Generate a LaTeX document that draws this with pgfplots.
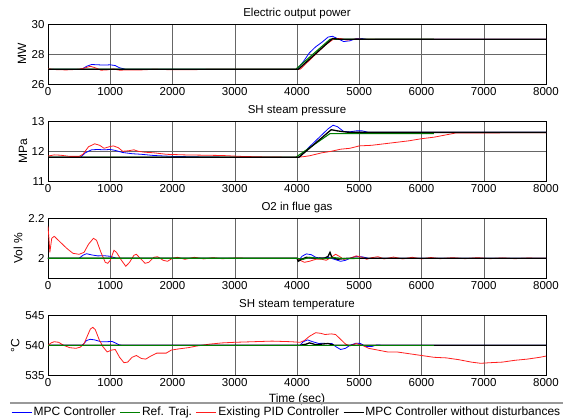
\documentclass[border=0pt]{standalone}
\usepackage{fontspec}
\setmainfont{Liberation Sans}
\usepackage{pgfplots}
\pgfplotsset{compat=1.18}

\definecolor{mblue}{RGB}{0,0,255}
\definecolor{mgreen}{RGB}{0,128,0}
\definecolor{mred}{RGB}{255,30,30}

\pgfplotsset{
  sub/.style={
    scale only axis, width=498pt, height=60pt, anchor=south west,
    xmin=0, xmax=8000, xtick={0,1000,...,8000},
    grid=major, major grid style={black!60, line width=0.5pt},
    major tick length=0pt,
    axis line style={line width=0.7pt},
    tick label style={font=\fontsize{11.5}{13}\selectfont},
    label style={font=\fontsize{12}{14}\selectfont},
    title style={font=\fontsize{11.5}{13}\selectfont, yshift=-4.5pt},
    /pgf/number format/assume math mode=true,
    /pgf/number format/set thousands separator={},
    scaled ticks=false,
    every axis plot/.append style={forget plot},
  },
  bl/.style={mblue, line width=0.8pt},
  gr/.style={mgreen, line width=1.1pt},
  rd/.style={mred, line width=0.8pt},
  bk/.style={black, line width=1.3pt},
}

\begin{document}
\begin{tikzpicture}
\useasboundingbox (0,0) rectangle (568pt,418pt);

% ---- electric output power
\begin{axis}[sub, at={(48pt,333.7pt)}, ymin=26, ymax=30, ytick={26,28,30},
  title={Electric output power}, ylabel={MW},
  ylabel style={at={(axis description cs:-0.052,0.5)}, anchor=center}]
\addplot[bl] coordinates {(0,27) (500,27) (550,27.02) (620,27.2) (700,27.32) (800,27.3) (900,27.28) (1000,27.3) (1080,27.25) (1150,27.1) (1250,27.0) (4000,27) (4100,27.5) (4200,28.1) (4300,28.5) (4400,28.8) (4500,29.15) (4570,29.2) (4650,29.05) (4750,28.85) (4850,28.9) (4950,29.05) (5050,29.05) (5150,28.98) (5300,29.0) (8000,29)};
\addplot[gr] coordinates {(0,27) (3980,27) (4530,29) (6200,29)};
\addplot[rd] coordinates {(0,27.03) (150,26.97) (300,26.96) (500,27) (600,27.1) (680,27.2) (760,27.1) (850,26.94) (950,26.96) (1050,27.02) (1150,26.94) (1300,26.96) (1500,26.96) (1700,27.0) (2000,26.97) (2300,26.97) (2600,27.0) (4000,27) (4050,27.0) (4150,27.4) (4300,28.0) (4450,28.6) (4600,29.05) (4700,29.05) (4800,28.95) (4950,29.02) (5100,29.0) (6700,29) (8000,29)};
\addplot[bk] coordinates {(0,27) (4020,27) (4570,29.05) (4700,29.0) (8000,29)};
\end{axis}

% ---- SH steam pressure
\begin{axis}[sub, at={(48pt,236.7pt)}, ymin=11, ymax=13, ytick={11,12,13},
  title={SH steam pressure}, ylabel={MPa},
  ylabel style={at={(axis description cs:-0.050,0.5)}, anchor=center}]
\addplot[bl] coordinates {(0,11.8) (520,11.8) (600,11.95) (700,12.05) (800,12.06) (900,12.05) (1000,12.06) (1080,12.03) (1200,11.96) (1350,11.92) (1500,11.9) (1700,11.86) (2000,11.83) (2500,11.81) (3000,11.8) (4000,11.8) (4050,11.83) (4200,12.15) (4350,12.45) (4500,12.75) (4580,12.87) (4650,12.82) (4750,12.66) (4850,12.65) (4950,12.68) (5050,12.68) (5150,12.63) (5300,12.63) (8000,12.63)};
\addplot[gr] coordinates {(0,11.8) (3980,11.8) (4530,12.59) (6200,12.59)};
\addplot[rd] coordinates {(0,11.84) (100,11.88) (200,11.87) (350,11.83) (500,11.83) (560,11.9) (650,12.15) (750,12.25) (830,12.2) (900,12.1) (980,12.15) (1050,12.18) (1130,12.12) (1200,12.0) (1300,12.02) (1380,12.05) (1450,12.0) (1550,11.97) (1700,11.95) (1900,11.9) (2200,11.88) (2500,11.87) (2800,11.86) (3100,11.83) (3500,11.81) (4000,11.8) (4100,11.82) (4200,11.85) (4400,11.95) (4550,12.0) (4700,12.07) (4850,12.1) (5000,12.18) (5200,12.2) (5400,12.25) (5600,12.3) (5800,12.35) (6000,12.42) (6200,12.47) (6400,12.55) (6550,12.61) (8000,12.62)};
\addplot[bk] coordinates {(0,11.8) (4030,11.8) (4200,12.1) (4550,12.72) (4650,12.68) (4800,12.64) (5000,12.63) (8000,12.63)};
\end{axis}

% ---- O2 in flue gas
\begin{axis}[sub, at={(48pt,139.7pt)}, ymin=1.9, ymax=2.2, ytick={2,2.2},
  title={O2 in flue gas}, ylabel={Vol \%},
  ylabel style={at={(axis description cs:-0.060,0.5)}, anchor=center}]
\addplot[bl] coordinates {(0,2) (500,2) (560,2.015) (620,2.023) (700,2.017) (800,2.012) (900,2.013) (1000,2.01) (1050,2.005) (1100,2) (4000,2) (4030,1.99) (4080,2.01) (4150,2.022) (4230,2.018) (4300,2.005) (4400,2.0) (4500,2.005) (4600,1.995) (4700,1.985) (4780,1.99) (4850,2.0) (4950,2.01) (5050,2.007) (5150,2.0) (8000,2)};
\addplot[rd] coordinates {(0,2.16) (15,2.1) (30,2.03) (60,2.1) (100,2.11) (200,2.08) (300,2.05) (400,2.025) (500,2.02) (580,2.03) (650,2.07) (730,2.1) (780,2.09) (850,2.03) (920,1.98) (960,1.975) (1000,1.99) (1060,2.04) (1100,2.03) (1180,1.99) (1250,1.96) (1310,1.98) (1380,2.015) (1420,2.02) (1480,2.0) (1560,1.975) (1620,1.98) (1700,2.005) (1760,2.008) (1850,1.99) (1920,1.985) (2000,2.0) (2080,2.005) (2200,1.995) (2350,2.005) (2500,1.997) (2650,2.003) (2800,1.998) (3000,2.001) (3500,2.0) (4000,2.0) (4050,1.99) (4120,1.98) (4200,1.985) (4300,1.995) (4400,1.995) (4470,1.99) (4550,2.005) (4620,2.02) (4680,2.01) (4750,1.995) (4850,2.0) (4950,2.012) (5050,2.005) (5120,1.995) (5200,2.003) (5300,2.008) (5400,1.997) (5550,2.006) (5700,1.997) (5850,2.005) (6000,1.997) (6150,2.004) (6300,1.998) (6500,2.003) (6700,1.998) (6900,2.003) (7100,1.998) (7300,2.002) (7500,1.998) (7700,2.001) (8000,2.0)};
\addplot[bk] coordinates {(0,2) (4000,2) (4020,1.985) (4060,1.993) (4150,2.005) (4300,2.0) (4450,2.002) (4500,2.01) (4530,2.03) (4560,2.005) (4650,1.995) (4800,2.0) (8000,2)};
\addplot[gr] coordinates {(0,2) (4000,2) (4100,1.995) (4200,2.005) (4400,1.997) (4600,2.003) (4800,1.998) (5000,2)};
\end{axis}

% ---- SH steam temperature
\begin{axis}[sub, at={(48pt,42.7pt)}, ymin=535, ymax=545, ytick={535,540,545},
  title={SH steam temperature}, ylabel={°C}, xlabel={Time (sec)},
  ylabel style={at={(axis description cs:-0.066,0.5)}, anchor=center},
  legend columns=4,
  legend style={draw=none, fill=none, at={(0.479,-0.617)}, anchor=center,
    font=\fontsize{12}{14}\selectfont, inner sep=0pt,
    nodes={inner sep=1.5pt}, column sep=0pt,
    /tikz/every even column/.append style={column sep=2.5pt}},
  legend image code/.code={\draw[#1] (0pt,0pt) -- (20pt,0pt);}]
\addplot[bl] coordinates {(0,540) (550,540) (620,540.8) (680,541) (750,540.9) (850,540.6) (950,540.6) (1030,540.65) (1080,540.4) (1150,540.05) (1200,540) (4050,540) (4100,540.6) (4170,540.9) (4250,540.6) (4350,540.3) (4430,540.35) (4500,540.25) (4560,540.3) (4620,539.8) (4700,539.3) (4780,539.5) (4850,540) (4950,540.35) (5020,540.3) (5100,539.8) (5200,539.8) (5280,540.05) (5400,540) (8000,540)};
\addplot[rd] coordinates {(0,540) (50,540.4) (100,540.6) (170,540.5) (250,540) (350,539.6) (450,539.5) (520,539.7) (580,540.3) (630,541.5) (680,542.7) (720,543) (760,542.6) (820,541) (880,539.8) (950,538.9) (1020,539.2) (1080,539.3) (1150,538) (1220,537.1) (1280,537.2) (1350,538) (1420,538.3) (1500,537.8) (1570,537.7) (1650,538.2) (1750,538.7) (1900,538.7) (1980,539.2) (2100,539.4) (2250,539.6) (2400,539.9) (2600,540.2) (2800,540.4) (3000,540.5) (3300,540.6) (3600,540.7) (3900,540.6) (4050,540.5) (4120,540.8) (4200,541.5) (4300,542.1) (4380,542.0) (4450,541.8) (4550,541.9) (4620,541.8) (4700,541) (4780,540.2) (4850,539.9) (4950,540.3) (5050,540) (5150,539.5) (5300,539.2) (5450,538.9) (5600,538.9) (5800,538.6) (6000,538.3) (6200,538.0) (6400,537.9) (6600,537.6) (6800,537.2) (6950,537.0) (7100,537.1) (7300,537.2) (7500,537.5) (7700,537.7) (7900,538) (8000,538.2)};
\addplot[bk] coordinates {(0,540) (4050,540) (4150,540.2) (4200,540.4) (4300,540.1) (4400,540.2) (4500,540.3) (4600,540) (8000,540)};
\addplot[gr] coordinates {(0,540) (6200,540)};
\addlegendimage{bl}\addlegendentry{MPC Controller}
\addlegendimage{gr, line width=0.9pt}\addlegendentry{Ref. Traj.}
\addlegendimage{rd}\addlegendentry{Existing PID Controller}
\addlegendimage{bk, line width=0.9pt}\addlegendentry{MPC Controller without disturbances}
\end{axis}

\draw[black!40, line width=1pt] (10pt,15pt) -- (563pt,15pt);
\end{tikzpicture}
\end{document}
